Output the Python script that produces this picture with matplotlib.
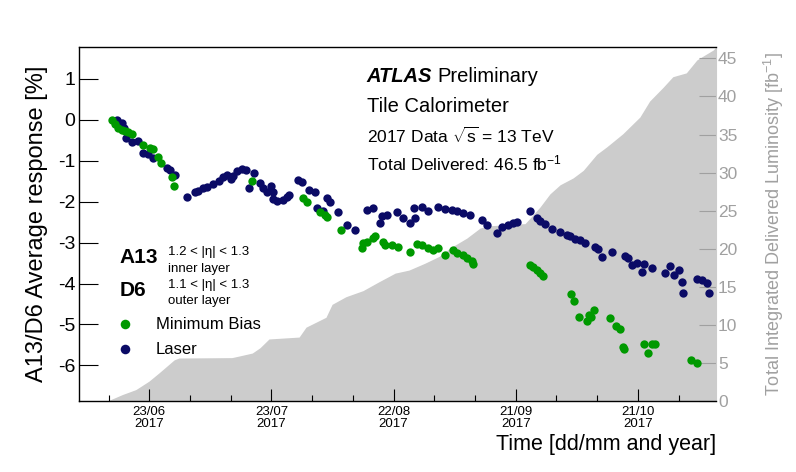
import numpy as np
import matplotlib
matplotlib.use('Agg')
import matplotlib.pyplot as plt
import matplotlib.dates as mdates

plt.rcParams['font.family'] = ['Liberation Sans', 'DejaVu Sans']
plt.rcParams['mathtext.fontset'] = 'custom'
plt.rcParams['mathtext.rm'] = 'Liberation Sans'
plt.rcParams['mathtext.it'] = 'Liberation Sans:italic'
plt.rcParams['mathtext.bf'] = 'Liberation Sans:bold'
plt.rcParams['axes.unicode_minus'] = False

# x values are days after 2017-06-01
laser_days = [14.0, 15.2, 15.8, 16.4, 17.7, 19.3, 20.5, 21.8, 23.0, 26.3, 27.1, 28.3,
              31.3, 33.2, 34.0, 35.3, 36.1, 37.6, 39.2, 40.0, 41.0, 42.0, 42.6, 43.6,
              44.7, 45.8, 46.6, 47.7, 49.2, 50.0, 50.8, 51.8, 52.5, 52.3, 53.4, 54.8,
              55.8, 56.4, 58.6, 59.4, 61.3, 62.7, 63.3, 64.6, 65.6, 66.4, 68.4, 70.5,
              72.5, 75.4, 77.0, 78.7, 79.1, 80.3, 82.8, 84.4, 86.1, 86.9, 87.3, 88.9,
              90.5, 93.0, 94.7, 96.3, 97.5, 99.1, 100.8, 103.7, 104.9, 107.4, 108.6, 110.2,
              111.4, 112.4, 115.4, 117.2, 118.0, 119.2, 120.9, 122.9, 124.6, 125.4, 126.6, 127.8,
              129.1, 131.5, 132.3, 133.2, 135.6, 138.9, 139.7, 140.5, 141.8, 143.4, 143.0, 145.4,
              148.7, 149.9, 150.9, 152.2, 152.8, 153.2, 156.5, 157.7, 159.0, 159.6]
laser_resp = [0.00, -0.08, -0.19, -0.45, -0.55, -0.51, -0.81, -0.83, -0.94, -1.18, -1.22, -1.34,
              -1.89, -1.77, -1.74, -1.67, -1.63, -1.56, -1.49, -1.39, -1.34, -1.44, -1.36, -1.26,
              -1.20, -1.22, -1.67, -1.30, -1.55, -1.66, -1.77, -1.61, -1.77, -1.93, -1.98, -1.96,
              -1.88, -1.83, -1.47, -1.52, -1.71, -1.77, -2.16, -2.22, -1.91, -2.00, -2.24, -2.57,
              -2.69, -2.20, -2.16, -2.53, -2.36, -2.32, -2.24, -2.40, -2.53, -2.16, -2.40, -2.12,
              -2.22, -2.13, -2.18, -2.20, -2.22, -2.28, -2.32, -2.44, -2.57, -2.77, -2.61, -2.57,
              -2.53, -2.49, -2.22, -2.40, -2.46, -2.54, -2.67, -2.73, -2.81, -2.85, -2.92, -2.93,
              -3.00, -3.10, -3.16, -3.34, -3.22, -3.33, -3.38, -3.55, -3.49, -3.52, -3.71, -3.63,
              -3.75, -3.56, -3.79, -3.67, -3.95, -4.22, -3.89, -3.91, -3.99, -4.22]

mb_days = [12.8, 13.6, 14.4, 15.2, 16.0, 16.8, 17.7, 20.5, 22.2, 23.0, 24.2, 25.0,
           27.5, 28.1, 47.2, 59.8, 60.7, 63.9, 65.2, 65.6, 69.0, 74.2, 74.6, 75.4,
           77.0, 77.5, 79.5, 79.9, 81.6, 83.2, 86.1, 87.7, 88.9, 90.5, 91.8, 93.0,
           94.7, 96.7, 97.5, 99.1, 100.0, 101.2, 101.6, 115.5, 116.3, 117.2, 118.0, 118.7,
           125.5, 126.3, 127.6, 129.6, 129.9, 131.3, 130.6, 135.2, 136.7, 137.5, 138.3, 138.6,
           143.4, 144.6, 145.4, 146.2, 155.0, 156.6]
mb_resp = [0.00, -0.11, -0.19, -0.24, -0.27, -0.30, -0.35, -0.61, -0.69, -0.71, -0.90, -1.06,
           -1.39, -1.61, -1.49, -1.91, -2.00, -2.24, -2.32, -2.38, -2.69, -3.14, -3.01, -2.98,
           -2.89, -2.85, -2.98, -3.06, -3.06, -3.11, -3.22, -3.03, -3.06, -3.14, -3.18, -3.14,
           -3.30, -3.18, -3.26, -3.30, -3.38, -3.46, -3.52, -3.55, -3.59, -3.67, -3.75, -3.81,
           -4.25, -4.43, -4.82, -4.91, -4.77, -4.65, -4.82, -4.85, -5.04, -5.12, -5.56, -5.60,
           -5.48, -5.69, -5.48, -5.48, -5.87, -5.95]

lumi_days = [11.7, 15.4, 18.7, 21.9, 24.4, 26.8, 28.1, 29.3, 42.3, 44.0, 47.3, 49.2,
             51.4, 58.8, 60.5, 65.4, 66.9, 70.3, 74.5, 78.2, 82.4, 85.8, 89.7, 93.2,
             95.9, 100.0, 103.2, 105.0, 114.3, 115.5, 118.0, 120.4, 122.9, 126.1, 128.6, 131.9,
             134.4, 138.3, 142.5, 144.9, 148.2, 150.6, 153.9, 156.5, 158.0, 160.5, 161.2]
lumi_total = [0.0, 0.85, 1.5, 2.6, 3.7, 4.8, 5.4, 5.65, 5.7, 5.9, 6.3, 7.0,
              8.15, 8.4, 9.7, 11.0, 12.7, 13.7, 14.5, 15.6, 16.8, 17.2, 18.1, 19.0,
              20.1, 21.4, 22.7, 23.0, 23.3, 24.0, 25.5, 27.2, 28.4, 29.3, 30.3, 32.4,
              33.4, 35.1, 37.3, 39.4, 41.2, 42.6, 43.1, 44.8, 45.3, 46.1, 46.5]

tick_dates = ['2017-06-23', '2017-07-23', '2017-08-22', '2017-09-21', '2017-10-21']
tick_labels = ['23/06\n2017', '23/07\n2017', '22/08\n2017', '21/09\n2017', '21/10\n2017']
resp_ticks = [-6, -5, -4, -3, -2, -1, 0, 1]
lumi_ticks = [0, 5, 10, 15, 20, 25, 30, 35, 40, 45]

GREEN = '#009900'
NAVY = '#0b0b66'
GREY_FILL = '#cccccc'
GREY_TXT = '#a0a0a0'

t0 = np.datetime64('2017-06-01T00:00')


def to_dates(days):
    mins = np.round(np.array(days) * 1440).astype(int)
    return mdates.date2num(t0 + mins.astype('timedelta64[m]'))


fig = plt.figure(figsize=(7.96, 4.72), dpi=100)
ax = fig.add_axes([0.0992, 0.1504, 0.8003, 0.75])
ax2 = ax.twinx()

# luminosity in the background
ax2.fill_between(to_dates(lumi_days), lumi_total, 0, color=GREY_FILL, lw=0)
ax2.set_ylim(0, 46.5)
ax2.set_yticks(lumi_ticks)
ax2.tick_params(axis='y', direction='in', length=12, width=0.8, colors=GREY_TXT,
                labelsize=12.5, pad=1.5)
for s in ['top', 'bottom', 'left']:
    ax2.spines[s].set_visible(False)
ax2.spines['right'].set_color(GREY_FILL)
ax2.set_ylabel('Total Integrated Delivered Luminosity [fb$^{-1}$]', color=GREY_TXT, fontsize=13)
ax2.yaxis.set_label_coords(1.072, 0.5)

ax.set_zorder(ax2.get_zorder() + 1)
ax.patch.set_visible(False)

laser, = ax.plot(to_dates(laser_days), laser_resp, 'o', ms=6, mew=0, color=NAVY, label='Laser')
mb, = ax.plot(to_dates(mb_days), mb_resp, 'o', ms=6, mew=0, color=GREEN, label='Minimum Bias')

ax.set_xlim(to_dates([4.73, 161.2]))
ax.set_ylim(-6.87, 1.78)
ax.set_yticks(resp_ticks)
ax.set_xticks(mdates.date2num(np.array(tick_dates, dtype='datetime64[D]')))
labs = ax.set_xticklabels(tick_labels)
for t in labs:
    t.set_linespacing(1.05)
minor = np.arange(np.datetime64('2017-06-13'), np.datetime64('2017-11-10'), 10)
ax.set_xticks(mdates.date2num(minor), minor=True)

ax.tick_params(axis='x', which='major', direction='in', length=8.5, width=0.8, labelsize=9.5, pad=3.5)
ax.tick_params(axis='x', which='minor', direction='in', length=4.3, width=0.8)
ax.tick_params(axis='y', direction='in', length=13.5, width=0.8, labelsize=14, pad=2.5)
ax.spines['right'].set_visible(False)
for s in ['top', 'bottom', 'left']:
    ax.spines[s].set_linewidth(1.0)

ax.set_ylabel('A13/D6 Average response [%]', fontsize=17)
ax.yaxis.set_label_coords(-0.049, 0.5)
ax.set_xlabel('Time [dd/mm and year]', fontsize=15.5, loc='right')
ax.xaxis.set_label_coords(1.0, -0.092)

# labels
atl = ax.text(0.452, 0.916, 'ATLAS', transform=ax.transAxes, fontsize=14.5,
              fontweight='bold', style='italic', va='center')
ax.annotate('Preliminary', xy=(1, 0.5), xycoords=atl, xytext=(4, 0),
            textcoords='offset points', fontsize=14.5, va='center')
ax.text(0.452, 0.831, 'Tile Calorimeter', transform=ax.transAxes, fontsize=14.5, va='center')
ax.text(0.452, 0.749, r'2017 Data $\sqrt{\mathrm{s}}$ = 13 TeV', transform=ax.transAxes,
        fontsize=12.5, va='center')
ax.text(0.452, 0.671, 'Total Delivered: 46.5 fb$^{-1}$', transform=ax.transAxes,
        fontsize=12.5, va='center')

ax.text(0.064, 0.405, 'A13', transform=ax.transAxes, fontsize=15, fontweight='bold', va='center')
ax.text(0.139, 0.421, '1.2 < |η| < 1.3', transform=ax.transAxes, fontsize=9.5, va='center')
ax.text(0.139, 0.374, 'inner layer', transform=ax.transAxes, fontsize=9.5, va='center')
ax.text(0.064, 0.312, 'D6', transform=ax.transAxes, fontsize=15, fontweight='bold', va='center')
ax.text(0.139, 0.327, '1.1 < |η| < 1.3', transform=ax.transAxes, fontsize=9.5, va='center')
ax.text(0.139, 0.283, 'outer layer', transform=ax.transAxes, fontsize=9.5, va='center')

ax.legend(handles=[mb, laser], loc='upper left', bbox_to_anchor=(0.059, 0.236),
          frameon=False, fontsize=12, handlelength=1.0, handletextpad=1.35,
          labelspacing=0.6, borderpad=0, borderaxespad=0, markerscale=1.15)

fig.savefig('out.png', dpi=100)
